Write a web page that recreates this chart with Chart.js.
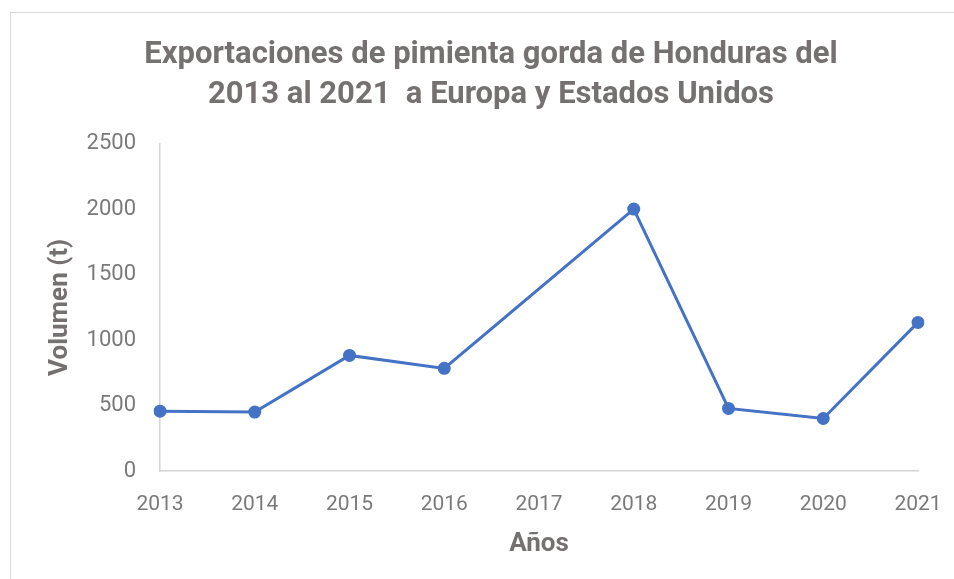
<!DOCTYPE html>
<html>
<head>
<meta charset="utf-8">
<script src="https://cdn.jsdelivr.net/npm/chart.js@4.4.1/dist/chart.umd.min.js"></script>
<style>
  html, body { margin: 0; padding: 0; background: #fff; overflow: hidden; }
  #frame { position: absolute; left: 10px; top: 12px; width: 960px; height: 580px; border: 1px solid #d9d9d9; }
  canvas { display: block; }
</style>
</head>
<body>
<div id="frame"><canvas id="chart" width="960" height="567"></canvas></div>
<script>
// Datos (2017 sin dato)
const years = ['2013', '2014', '2015', '2016', '2017', '2018', '2019', '2020', '2021'];
const volumen = [457, 450, 883, 784, null, 2001, 478, 401, 1135];
const yTicks = [0, 500, 1000, 1500, 2000, 2500];

const gray = '#767171';
const tickGray = '#7a7a7a';
const blue = '#4472C4';

new Chart(document.getElementById('chart'), {
  type: 'line',
  data: {
    labels: years,
    datasets: [{
      data: volumen,
      borderColor: blue,
      backgroundColor: blue,
      borderWidth: 3,
      pointRadius: 6.5,
      pointHoverRadius: 6.5,
      pointBorderWidth: 0,
      spanGaps: true,
      tension: 0
    }]
  },
  options: {
    responsive: false,
    animation: false,
    layout: { padding: { left: 0, right: 0, top: 0, bottom: 20 } },
    plugins: {
      legend: { display: false },
      tooltip: { enabled: false },
      title: {
        display: true,
        text: ['Exportaciones de pimienta gorda de Honduras del', '2013 al 2021  a Europa y Estados Unidos'],
        color: gray,
        font: { family: 'Roboto', size: 31, weight: 'bold', lineHeight: 1.27 },
        padding: { top: 23, bottom: 29 }
      }
    },
    scales: {
      x: {
        offset: false,
        afterFit: s => { s.height = 89; },
        grid: { display: false, drawTicks: false },
        border: { display: true, color: '#d4d4d4', width: 1.5 },
        ticks: { color: tickGray, padding: 21, font: { family: 'Roboto', size: 21 }, maxRotation: 0 },
        title: {
          display: true, text: 'Años', color: gray,
          font: { family: 'Roboto', size: 26, weight: 'bold', lineHeight: 1.2 },
          padding: { top: 0, bottom: 0 }
        }
      },
      y: {
        min: 0, max: 2500,
        afterBuildTicks: s => { s.ticks = yTicks.map(v => ({ value: v })); },
        afterFit: s => { s.width = 149; },
        grid: { display: false, drawTicks: false },
        border: { display: true, color: '#d4d4d4', width: 1.5 },
        ticks: { color: tickGray, padding: 24, font: { family: 'Roboto', size: 22 }, callback: v => String(v) },
        title: {
          display: true, text: 'Volumen (t)', color: gray,
          font: { family: 'Roboto', size: 26, weight: 'bold', lineHeight: 1.2 },
          padding: { top: 34, bottom: 0 }
        }
      },
      // eje vacio a la derecha, solo reserva espacio para que el titulo quede centrado en el marco
      yRight: {
        type: 'linear',
        position: 'right',
        display: true,
        afterFit: s => { s.width = 53; },
        grid: { display: false, drawTicks: false },
        border: { display: false },
        ticks: { display: false }
      }
    }
  }
});
</script>
</body>
</html>
